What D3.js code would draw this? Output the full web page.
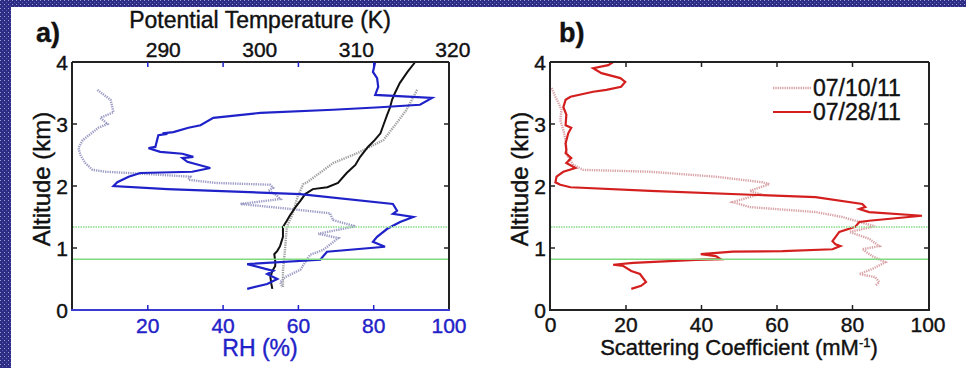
<!DOCTYPE html>
<html>
<head>
<meta charset="utf-8">
<script src="https://cdn.jsdelivr.net/npm/d3@7"></script>
<style>
  html, body { margin: 0; padding: 0; background: #fff; }
  svg { display: block; font-family: "Liberation Sans", Arial, sans-serif; }
  svg text { stroke-width: 0.4px; }
</style>
</head>
<body>
<div id="chart"></div>
<script>
// ---- data: [value, altitude km] ----
var rhJul28 = [[80.4,4.0],[79.8,3.84],[80.9,3.74],[81.2,3.60],[80.4,3.47],[95.5,3.42],[92.3,3.31],[81.7,3.27],
  [69.2,3.23],[49.9,3.18],[37.4,3.10],[34.0,2.98],[30.8,2.94],[26.8,2.87],[23.9,2.85],[25.2,2.84],[22.8,2.82],
  [22.0,2.63],[20.2,2.61],[23.3,2.55],[29.2,2.52],[32.1,2.47],[29.2,2.45],[30.5,2.39],[36.6,2.29],[31.8,2.23],
  [18.0,2.21],[14.9,2.15],[11.9,2.06],[10.9,2.00],[25.2,1.95],[60.5,1.87],[85.1,1.71],[86.2,1.60],[85.1,1.55],
  [90.5,1.50],[87.0,1.42],[83.6,1.31],[80.9,1.18],[79.8,1.10],[83.0,1.02],[67.6,0.94],[65.8,0.81],[46.4,0.74],
  [53.3,0.63],[51.7,0.58],[54.4,0.50],[51.7,0.42],[46.4,0.34]];
var rhJul10 = [[6.6,3.55],[10.1,3.39],[10.9,3.19],[7.4,3.10],[9.3,3.00],[6.9,2.94],[2.7,2.74],[1.6,2.61],
  [2.1,2.50],[3.4,2.37],[5.3,2.26],[8.8,2.23],[20.7,2.19],[31.3,2.15],[30.8,2.10],[37.9,2.05],[52.5,2.02],
  [53.3,1.97],[52.0,1.92],[53.8,1.87],[55.2,1.79],[44.6,1.71],[57.8,1.63],[68.4,1.56],[69.2,1.45],[75.1,1.35],
  [65.3,1.23],[70.6,1.16],[66.6,0.97],[63.1,0.89],[61.8,0.77],[60.5,0.65],[56.5,0.53],[55.2,0.45],[55.7,0.37]];
var thetaJul28 = [[316.1,4.0],[315.3,3.84],[314.5,3.66],[314.0,3.50],[313.7,3.39],[313.5,3.27],[313.2,3.15],
  [312.8,2.98],[312.5,2.85],[311.9,2.74],[311.2,2.63],[310.4,2.47],[309.9,2.34],[309.0,2.21],[308.1,2.05],
  [307.0,1.98],[305.5,1.95],[304.7,1.87],[304.2,1.76],[303.7,1.66],[303.1,1.52],[302.8,1.44],[302.4,1.34],
  [302.4,1.18],[302.1,1.03],[301.8,0.95],[301.5,0.90],[301.6,0.79],[301.6,0.71],[301.3,0.63],[301.1,0.53],
  [301.2,0.42],[301.3,0.34]];
var thetaJul10 = [[316.3,3.55],[315.2,3.23],[314.2,3.02],[312.8,2.74],[311.4,2.63],[310.1,2.53],[307.6,2.37],
  [306.2,2.21],[304.9,2.06],[304.5,2.03],[303.9,1.82],[303.4,1.55],[302.8,1.34],[302.6,0.95],[302.4,0.63],
  [302.4,0.37]];
var scatJul28 = [[16.6,4.0],[15.3,3.95],[11.3,3.90],[13.5,3.82],[18.5,3.74],[19.8,3.68],[18.7,3.60],[14.8,3.55],
  [11.3,3.52],[5.3,3.44],[4.0,3.39],[3.4,3.27],[4.2,3.15],[4.0,2.98],[5.5,2.94],[4.7,2.85],[4.0,2.69],[4.2,2.58],
  [4.0,2.53],[5.5,2.45],[4.2,2.37],[6.6,2.29],[3.4,2.23],[1.6,2.15],[1.3,2.06],[2.6,2.02],[5.3,1.98],[26.4,1.92],
  [70.2,1.82],[82.6,1.71],[83.4,1.66],[81.8,1.63],[84.4,1.58],[98.4,1.52],[84.4,1.44],[81.8,1.42],[80.7,1.34],
  [76.5,1.26],[74.7,1.11],[75.5,1.06],[76.8,1.03],[74.7,0.98],[61.5,0.95],[48.3,0.94],[39.8,0.90],[43.8,0.87],
  [45.1,0.82],[38.5,0.81],[21.9,0.76],[16.6,0.73],[19.3,0.71],[21.4,0.63],[23.7,0.58],[25.3,0.45],[24.0,0.39],
  [21.4,0.34]];
var scatJul10 = [[0.3,3.58],[1.3,3.44],[2.1,3.34],[2.9,3.23],[2.6,3.06],[3.4,2.90],[4.0,2.74],[4.2,2.58],
  [4.7,2.45],[6.1,2.34],[8.7,2.26],[26.4,2.23],[43.8,2.15],[56.2,2.06],[58.0,2.03],[52.8,1.92],[55.4,1.87],
  [48.3,1.74],[52.8,1.66],[70.2,1.58],[77.3,1.50],[80.7,1.44],[86.0,1.35],[79.2,1.26],[84.4,1.15],[87.1,1.03],
  [82.6,0.98],[85.2,0.87],[88.7,0.77],[85.2,0.66],[81.8,0.58],[86.0,0.53],[87.1,0.45],[86.0,0.39]];
var layerAlts = [1.34, 0.82];           // dotted, solid green markers
var altTicks = [0, 1, 2, 3, 4];
var rhTicks = [20, 40, 60, 80, 100];
var thetaTicks = [290, 300, 310, 320];
var scatTicks = [0, 20, 40, 60, 80, 100];
var legendLabels = ["07/10/11", "07/28/11"];

var W = 966, H = 368;
var BLUE = "#1f22c8", RED = "#d41f1f", INK = "#111";
var svg = d3.select("#chart").append("svg").attr("width", W).attr("height", H);

// patterned slide border
var defs = svg.append("defs");
var pat = defs.append("pattern").attr("id", "bg").attr("width", 4).attr("height", 4)
  .attr("patternUnits", "userSpaceOnUse");
pat.append("rect").attr("width", 4).attr("height", 4).attr("fill", "#2d2d86");
pat.append("rect").attr("width", 1).attr("height", 1).attr("fill", "#9c9cd2");
pat.append("rect").attr("x", 2).attr("y", 2).attr("width", 1).attr("height", 1).attr("fill", "#5c5cae");
svg.append("rect").attr("width", W).attr("height", 7).attr("fill", "url(#bg)");
svg.append("rect").attr("width", 11).attr("height", H).attr("fill", "url(#bg)");

var plotTop = 62, plotBot = 310;
var y = d3.scaleLinear().domain([0, 4]).range([plotBot, plotTop]);
var line = function (xs) {
  return d3.line().x(function (d) { return xs(d[0]); }).y(function (d) { return y(d[1]); });
};

function label(g, x, yy, txt, size, color) {
  return g.append("text").attr("x", x).attr("y", yy).attr("font-size", size)
    .attr("fill", color).attr("stroke", color).text(txt);
}

function frame(g, x0, x1, xColor) {
  // left / right / top in black, bottom in xColor
  g.append("line").attr("x1", x0).attr("x2", x0).attr("y1", plotTop).attr("y2", plotBot).attr("stroke", "#222").attr("stroke-width", 2);
  g.append("line").attr("x1", x1).attr("x2", x1).attr("y1", plotTop).attr("y2", plotBot).attr("stroke", "#222").attr("stroke-width", 2);
  g.append("line").attr("x1", x0).attr("x2", x1).attr("y1", plotTop).attr("y2", plotTop).attr("stroke", "#222").attr("stroke-width", 2);
  g.append("line").attr("x1", x0 - 1).attr("x2", x1 + 1).attr("y1", plotBot).attr("y2", plotBot).attr("stroke", xColor).attr("stroke-width", 2);
}

function altAxis(g, x0, x1, labelX) {
  altTicks.forEach(function (t) {
    if (t > 0 && t < 4) {
      g.append("line").attr("x1", x0).attr("x2", x0 + 5).attr("y1", y(t)).attr("y2", y(t)).attr("stroke", "#222").attr("stroke-width", 1.5);
      g.append("line").attr("x1", x1).attr("x2", x1 - 5).attr("y1", y(t)).attr("y2", y(t)).attr("stroke", "#222").attr("stroke-width", 1.5);
    }
    label(g, x0 - 4, y(t), t, 21, INK).attr("dy", "0.36em").attr("text-anchor", "end");
  });
  label(g, 0, 0, "Altitude (km)", 24, INK).attr("text-anchor", "middle")
    .attr("transform", "translate(" + labelX + "," + 179 + ") rotate(-90)");
}

function greenLines(g, x0, x1) {
  layerAlts.forEach(function (a, i) {
    g.append("line").attr("x1", x0 + 1).attr("x2", x1 - 1).attr("y1", y(a)).attr("y2", y(a))
      .attr("stroke", i === 0 ? "#a6e4a6" : "#7fd97f").attr("stroke-width", i === 0 ? 2 : 1.5)
      .attr("stroke-dasharray", i === 0 ? "1.5,1" : null);
  });
}

// ---------- panel a ----------
var ga = svg.append("g");
var xa = d3.scaleLinear().domain([0, 100]).range([72.5, 449]);
var xt = d3.scaleLinear().domain([280.6, 319.6]).range([72.5, 449]);

ga.append("path").datum(rhJul10).attr("d", line(xa)).attr("fill", "none")
  .attr("stroke", "#9c9cc6").attr("stroke-width", 2.4).attr("stroke-dasharray", "1.3,1");
ga.append("path").datum(thetaJul10).attr("d", line(xt)).attr("fill", "none")
  .attr("stroke", "#a0a0a0").attr("stroke-width", 2.4).attr("stroke-dasharray", "1.3,1");
ga.append("path").datum(thetaJul28).attr("d", line(xt)).attr("fill", "none")
  .attr("stroke", "#111").attr("stroke-width", 2);
ga.append("path").datum(rhJul28).attr("d", line(xa)).attr("fill", "none")
  .attr("stroke", BLUE).attr("stroke-width", 2.2);
greenLines(ga, 72, 449);
frame(ga, 72, 449, "#3a3ad0");
rhTicks.forEach(function (t) {
  if (t < 100) {
    ga.append("line").attr("x1", xa(t)).attr("x2", xa(t)).attr("y1", plotBot).attr("y2", plotBot - 5).attr("stroke", BLUE).attr("stroke-width", 1.5);
    ga.append("line").attr("x1", xa(t)).attr("x2", xa(t)).attr("y1", plotTop).attr("y2", plotTop + 5).attr("stroke", BLUE).attr("stroke-width", 1.5);
  }
  label(ga, xa(t), 333, t, 21, BLUE).attr("text-anchor", "middle");
});
thetaTicks.forEach(function (t) {
  label(ga, xt(t), 57, t, 21, INK).attr("text-anchor", "middle");
});
altAxis(ga, 72, 449, 50);
label(ga, 260, 28, "Potential Temperature (K)", 23, INK).attr("text-anchor", "middle");
label(ga, 260, 356, "RH (%)", 23, BLUE).attr("text-anchor", "middle");
label(ga, 36, 42, "a)", 27, INK).attr("font-weight", "bold");

// ---------- panel b ----------
var gb = svg.append("g");
var xb = d3.scaleLinear().domain([0, 100]).range([550.5, 928]);
gb.append("path").datum(scatJul10).attr("d", line(xb)).attr("fill", "none")
  .attr("stroke", "#d8a2a6").attr("stroke-width", 2.4).attr("stroke-dasharray", "1.3,1");
gb.append("path").datum(scatJul28).attr("d", line(xb)).attr("fill", "none")
  .attr("stroke", RED).attr("stroke-width", 2.2);
greenLines(gb, 550, 929);
frame(gb, 550, 929, "#222");
scatTicks.forEach(function (t) {
  if (t > 0 && t < 100) {
    gb.append("line").attr("x1", xb(t)).attr("x2", xb(t)).attr("y1", plotBot).attr("y2", plotBot - 5).attr("stroke", "#222").attr("stroke-width", 1.5);
    gb.append("line").attr("x1", xb(t)).attr("x2", xb(t)).attr("y1", plotTop).attr("y2", plotTop + 5).attr("stroke", "#222").attr("stroke-width", 1.5);
  }
  label(gb, xb(t), 332, t, 21, INK).attr("text-anchor", "middle");
});
altAxis(gb, 550, 929, 528);
var sc = label(gb, 739, 355, null, 22, INK).attr("text-anchor", "middle");
sc.append("tspan").text("Scattering Coefficient (mM");
sc.append("tspan").attr("font-size", 13).attr("dy", -8).text("-1");
sc.append("tspan").attr("dy", 8).text(")");
label(gb, 559, 42, "b)", 27, INK).attr("font-weight", "bold");

// legend
var leg = gb.append("g");
legendLabels.forEach(function (lab, i) {
  var ly = 88 + i * 24;
  leg.append("line").attr("x1", 773).attr("x2", 811).attr("y1", ly).attr("y2", ly)
    .attr("stroke", i === 0 ? "#d8a2a6" : RED).attr("stroke-width", i === 0 ? 2.4 : 2)
    .attr("stroke-dasharray", i === 0 ? "1.3,1" : null);
  label(leg, 813, ly, lab, 23, INK).attr("dy", "0.36em");
});
</script>
</body>
</html>
